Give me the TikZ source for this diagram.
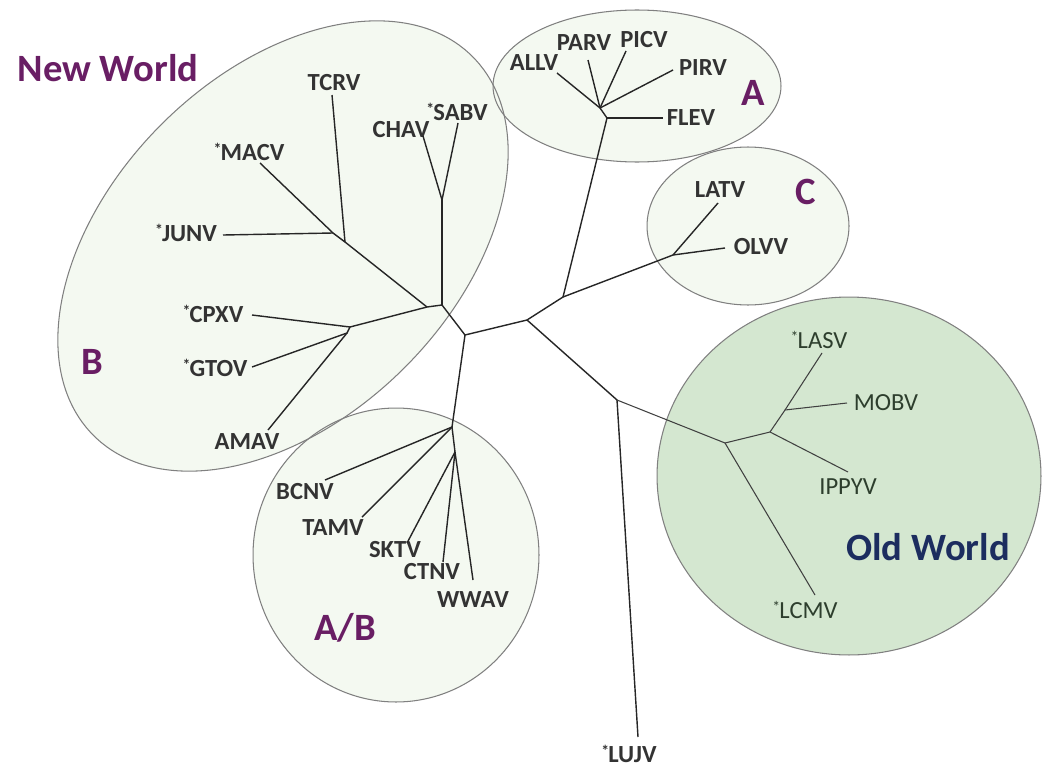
\documentclass[tikz,border=0pt]{standalone}
\usepackage{fontspec}
\setmainfont{Carlito}
\definecolor{grpcol}{RGB}{105,30,100}
\definecolor{oldcol}{RGB}{28,45,95}
\definecolor{lightfill}{RGB}{244,249,241}
\definecolor{oldfill}{RGB}{212,231,208}
\definecolor{oldtext}{RGB}{45,62,45}
\newcommand{\vmark}{\raisebox{3.5pt}{\fontsize{9}{9}\selectfont *}\kern-0.5pt}
\tikzset{
  leaf/.style={font=\bfseries\fontsize{14}{16}\selectfont, text=black!80, inner sep=0pt},
  oleaf/.style={font=\fontsize{14}{16}\selectfont, text=oldtext, inner sep=0pt},
  grp/.style={font=\bfseries\fontsize{22}{24}\selectfont, text=grpcol, inner sep=0pt},
  branch/.style={line width=0.8pt, black!85},
  obranch/.style={line width=0.6pt, black!75},
  hull/.style={draw=black!50, line width=0.6pt}
}

\begin{document}
\begin{tikzpicture}[x=0.02cm, y=-0.02cm]
\useasboundingbox (0,0) rectangle (1043,767);

% clade outlines
\fill[lightfill, rotate around={45:(283,246)}] (283,246) ellipse [x radius=5.36cm, y radius=3.44cm];
\fill[lightfill] (637,86) ellipse [x radius=2.88cm, y radius=1.52cm];
\fill[lightfill] (748,226) ellipse [x radius=2.02cm, y radius=1.58cm];
\fill[lightfill] (396,555) ellipse [x radius=2.86cm, y radius=2.94cm];
\fill[oldfill] (849,476) ellipse [x radius=3.84cm, y radius=3.58cm];
\draw[hull, rotate around={45:(283,246)}] (283,246) ellipse [x radius=5.36cm, y radius=3.44cm];
\draw[hull] (637,86) ellipse [x radius=2.88cm, y radius=1.52cm];
\draw[hull] (748,226) ellipse [x radius=2.02cm, y radius=1.58cm];
\draw[hull] (396,555) ellipse [x radius=2.86cm, y radius=2.94cm];
\draw[hull] (849,476) ellipse [x radius=3.84cm, y radius=3.58cm];

% group names
\node[grp] (newworld) at (108,68) {New World};
\node[grp, text=oldcol] (oldworld) at (928,547) {Old World};
\node[grp] (grpA) at (753,93) {A};
\node[grp] (grpB) at (92,362) {B};
\node[grp] (grpC) at (806,192) {C};
\node[grp] (grpAB) at (345,628) {A/B};

% inner points of the tree
\coordinate (nC) at (465,335);
\coordinate (nB0) at (442,305);
\coordinate (nB1) at (427,307);
\coordinate (nT) at (345,242);
\coordinate (nJ) at (333,233);
\coordinate (nS) at (442,200);
\coordinate (nB4) at (350,327);
\coordinate (nB5) at (347,333);
\coordinate (nR) at (527,320);
\coordinate (nAC) at (563,297);
\coordinate (nA0) at (607,118);
\coordinate (nA1) at (600,108);
\coordinate (nCc) at (673,255);
\coordinate (nO) at (617,400);
\coordinate (nOW) at (725,443);
\coordinate (nOW1) at (770,432);
\coordinate (nOW2) at (785,410);
\coordinate (nAB) at (452,427);
\coordinate (nAB2) at (455,452);

% tips
\coordinate (tCHAV) at (423,136);
\coordinate (tSABV) at (458,123);
\coordinate (tMACV) at (260,163);
\coordinate (tTCRV) at (332,95);
\coordinate (tJUNV) at (223,235);
\coordinate (tCPXV) at (252,315);
\coordinate (tGTOV) at (252,367);
\coordinate (tAMAV) at (268,430);
\coordinate (tALLV) at (557,73);
\coordinate (tPARV) at (588,60);
\coordinate (tPICV) at (626,51);
\coordinate (tPIRV) at (673,70);
\coordinate (tFLEV) at (663,118);
\coordinate (tLATV) at (718,203);
\coordinate (tOLVV) at (725,248);
\coordinate (tLUJV) at (638,737);
\coordinate (tLASV) at (822,353);
\coordinate (tMOBV) at (847,403);
\coordinate (tIPPYV) at (848,472);
\coordinate (tLCMV) at (815,595);
\coordinate (tBCNV) at (325,480);
\coordinate (tTAMV) at (362,517);
\coordinate (tSKTV) at (407,543);
\coordinate (tCTNV) at (443,562);
\coordinate (tWWAV) at (473,580);

% virus names
\node[leaf] (chav) at (401,130) {CHAV};
\node[leaf] (sabv) at (457,112) {\vmark SABV};
\node[leaf] (macv) at (249,152) {\vmark MACV};
\node[leaf] (tcrv) at (334,83) {TCRV};
\node[leaf] (junv) at (186,233) {\vmark JUNV};
\node[leaf] (cpxv) at (213,314) {\vmark CPXV};
\node[leaf] (gtov) at (215,368) {\vmark GTOV};
\node[leaf] (amav) at (247,442) {AMAV};
\node[leaf] (allv) at (534,63) {ALLV};
\node[leaf] (parv) at (584,43) {PARV};
\node[leaf] (picv) at (644,40) {PICV};
\node[leaf] (pirv) at (703,68) {PIRV};
\node[leaf] (flev) at (691,118) {FLEV};
\node[leaf] (latv) at (720,190) {LATV};
\node[leaf] (olvv) at (761,247) {OLVV};
\node[leaf] (lujv) at (629,754) {\vmark LUJV};
\node[oleaf] (lasv) at (819,340) {\vmark LASV};
\node[oleaf] (mobv) at (886,403) {MOBV};
\node[oleaf] (ippyv) at (848,487) {IPPYV};
\node[oleaf] (lcmv) at (805,610) {\vmark LCMV};
\node[leaf] (bcnv) at (305,492) {BCNV};
\node[leaf] (tamv) at (333,528) {TAMV};
\node[leaf] (sktv) at (395,550) {SKTV};
\node[leaf] (ctnv) at (432,572) {CTNV};
\node[leaf] (wwav) at (473,600) {WWAV};

% branches
\draw[branch] (nAB) -- (nC) -- (nB0) -- (nB1);
\draw[branch] (nC) -- (nR) -- (nAC) -- (nA0) -- (nA1);
\draw[branch] (nAC) -- (nCc);
\draw[branch] (nR) -- (nO) -- (tLUJV);
\draw[branch] (nB0) -- (nS);
\draw[branch] (nS) -- (tCHAV);
\draw[branch] (nS) -- (tSABV);
\draw[branch] (nB1) -- (nT) -- (nJ) -- (tMACV);
\draw[branch] (nT) -- (tTCRV);
\draw[branch] (nJ) -- (tJUNV);
\draw[branch] (nB1) -- (nB4) -- (tCPXV);
\draw[branch] (nB4) -- (nB5) -- (tGTOV);
\draw[branch] (nB5) -- (tAMAV);
\draw[branch] (nA1) -- (tALLV);
\draw[branch] (nA1) -- (tPARV);
\draw[branch] (nA1) -- (tPICV);
\draw[branch] (nA1) -- (tPIRV);
\draw[branch] (nA0) -- (tFLEV);
\draw[branch] (nCc) -- (tLATV);
\draw[branch] (nCc) -- (tOLVV);
\draw[branch] (nAB) -- (tBCNV);
\draw[branch] (nAB) -- (tTAMV);
\draw[branch] (nAB) -- (nAB2) -- (tSKTV);
\draw[branch] (nAB2) -- (tCTNV);
\draw[branch] (nAB2) -- (tWWAV);
\draw[obranch] (nO) -- (nOW) -- (tLCMV);
\draw[obranch] (nOW) -- (nOW1) -- (tIPPYV);
\draw[obranch] (nOW1) -- (nOW2) -- (tMOBV);
\draw[obranch] (nOW2) -- (tLASV);
\end{tikzpicture}
\end{document}
